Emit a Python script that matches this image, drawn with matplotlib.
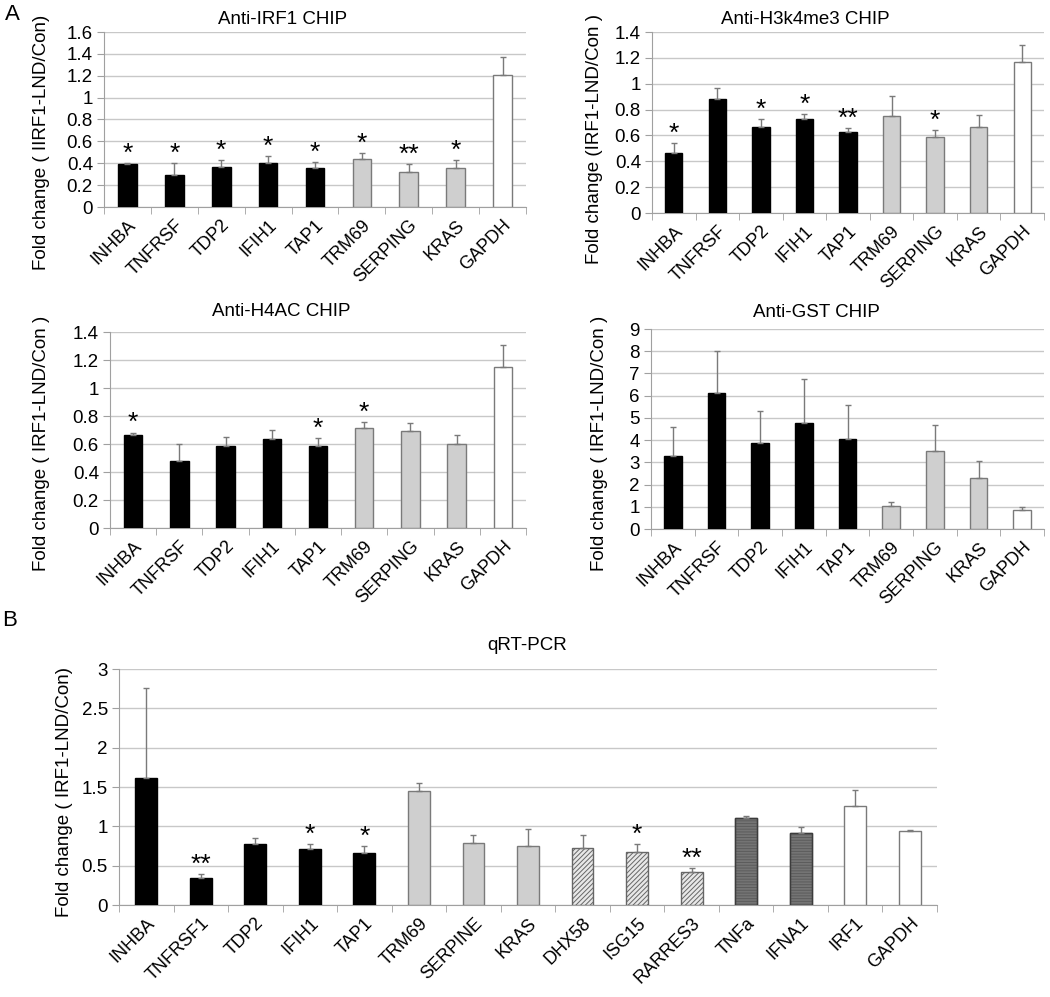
import numpy as np
import matplotlib
matplotlib.use("Agg")
import matplotlib.pyplot as plt

plt.rcParams["font.family"] = ["Liberation Sans", "DejaVu Sans"]
plt.rcParams["hatch.linewidth"] = 0.7

W, H = 1050, 997

genes_a = ["INHBA", "TNFRSF", "TDP2", "IFIH1", "TAP1", "TRM69", "SERPING", "KRAS", "GAPDH"]
groups_a = ["k", "k", "k", "k", "k", "g", "g", "g", "w"]

irf1_val = [0.39, 0.29, 0.37, 0.40, 0.36, 0.44, 0.32, 0.36, 1.21]
irf1_err = [0.015, 0.115, 0.06, 0.07, 0.05, 0.05, 0.07, 0.07, 0.16]
irf1_star = ["*", "*", "*", "*", "*", "*", "**", "*", ""]

h3_val = [0.465, 0.885, 0.665, 0.73, 0.627, 0.748, 0.586, 0.662, 1.17]
h3_err = [0.077, 0.08, 0.06, 0.035, 0.03, 0.155, 0.055, 0.095, 0.13]
h3_star = ["*", "", "*", "*", "**", "", "*", "", ""]

h4_val = [0.662, 0.481, 0.583, 0.636, 0.588, 0.714, 0.69, 0.598, 1.15]
h4_err = [0.02, 0.12, 0.065, 0.062, 0.055, 0.045, 0.062, 0.067, 0.16]
h4_star = ["*", "", "", "", "*", "*", "", "", ""]

gst_val = [3.28, 6.11, 3.85, 4.78, 4.06, 1.03, 3.52, 2.29, 0.85]
gst_err = [1.29, 1.9, 1.48, 1.96, 1.5, 0.18, 1.15, 0.79, 0.12]
gst_star = [""] * 9

genes_b = ["INHBA", "TNFRSF1", "TDP2", "IFIH1", "TAP1", "TRM69", "SERPINE", "KRAS",
           "DHX58", "ISG15", "RARRES3", "TNFa", "IFNA1", "IRF1", "GAPDH"]
groups_b = ["k", "k", "k", "k", "k", "g", "g", "g", "h", "h", "h", "d", "d", "w", "w"]
qpcr_val = [1.614, 0.343, 0.78, 0.708, 0.665, 1.445, 0.792, 0.746,
            0.725, 0.67, 0.424, 1.10, 0.915, 1.263, 0.94]
qpcr_err = [1.144, 0.05, 0.076, 0.067, 0.085, 0.11, 0.10, 0.225,
            0.165, 0.10, 0.04, 0.03, 0.08, 0.2, 0.013]
qpcr_star = ["", "**", "", "*", "*", "", "", "", "", "*", "**", "", "", "", ""]

styles = {
    "k": dict(facecolor="black", edgecolor="black", hatch=None),
    "g": dict(facecolor="#cfcfcf", edgecolor="#7a7a7a", hatch=None),
    "w": dict(facecolor="white", edgecolor="#7a7a7a", hatch=None),
    "h": dict(facecolor="#e8e8e8", edgecolor="#666666", hatch="///////"),
    "d": dict(facecolor="#747474", edgecolor="#5c5c5c", hatch="------"),
}


def add_ax(left, right, top, bottom):
    return fig.add_axes([left / W, 1 - bottom / H, (right - left) / W, (bottom - top) / H])


def panel(ax, cats, vals, errs, groups, stars, ymax, ystep, ylabel, lab_xy, width=0.4):
    x = np.arange(len(cats))
    for i in range(len(cats)):
        st = styles[groups[i]]
        ax.bar(x[i], vals[i], width=width, color=st["facecolor"], edgecolor=st["edgecolor"],
               hatch=st["hatch"], linewidth=1.0, zorder=3)
        if groups[i] == "d":
            ax.bar(x[i], vals[i], width=width, fill=False, edgecolor="#3c3c3c",
                   linewidth=1.0, zorder=3)
    ax.errorbar(x, vals, yerr=[np.zeros(len(vals)), errs], fmt="none", ecolor="#7a7a7a",
                elinewidth=1.0, capsize=2, capthick=1.0, zorder=4)
    for i in range(len(cats)):
        if stars[i]:
            ax.annotate(stars[i], (x[i], vals[i] + errs[i]), xytext=(0, -2), textcoords="offset points",
                        ha="center", va="bottom", fontsize=19)
    ax.set_xlim(-0.5, len(cats) - 0.5)
    ax.set_ylim(0, ymax)
    ticks = np.arange(0, ymax + ystep / 2, ystep)
    ax.set_yticks(ticks)
    ax.set_yticklabels(["{:g}".format(round(t, 2)) for t in ticks], fontsize=13.5)
    ax.set_xticks(x)
    ax.set_xticklabels(cats, rotation=45, ha="right", rotation_mode="anchor", fontsize=13)
    ax.set_xticks(np.arange(-0.5, len(cats)), minor=True)
    ax.tick_params(axis="x", which="major", length=0, pad=7)
    ax.tick_params(axis="x", which="minor", length=5, color="#a0a0a0", direction="out")
    ax.tick_params(axis="y", length=5, color="#a0a0a0", pad=3)
    ax.grid(axis="y", color="#c8c8c8", linewidth=1.0, zorder=0)
    ax.set_axisbelow(True)
    for s in ["top", "right"]:
        ax.spines[s].set_visible(False)
    for s in ["left", "bottom"]:
        ax.spines[s].set_color("#a0a0a0")
    ax.set_ylabel(ylabel, fontsize=13.5)
    ax.yaxis.set_label_coords(*lab_xy)


fig = plt.figure(figsize=(W / 100, H / 100), dpi=100)

# label x given as right edge of the rotated text, in axes fraction
ax1 = add_ax(104, 526, 32, 207)
panel(ax1, genes_a, irf1_val, irf1_err, groups_a, irf1_star, 1.6, 0.2,
      "Fold change ( IIRF1-LND/Con)", ((50 - 104) / 422, 0.37))
ax2 = add_ax(652, 1044, 32, 213)
panel(ax2, genes_a, h3_val, h3_err, groups_a, h3_star, 1.4, 0.2,
      "Fold change (IRF1-LND/Con )", ((603 - 652) / 392, 0.41))
ax3 = add_ax(110, 526, 332, 528)
panel(ax3, genes_a, h4_val, h4_err, groups_a, h4_star, 1.4, 0.2,
      "Fold change ( IRF1-LND/Con )", ((50 - 110) / 416, 0.43))
ax4 = add_ax(651, 1044, 329, 529)
panel(ax4, genes_a, gst_val, gst_err, groups_a, gst_star, 9, 1,
      "Fold change ( IRF1-LND/Con )", ((608 - 651) / 393, 0.43))
ax5 = add_ax(119, 937, 669, 905)
panel(ax5, genes_b, qpcr_val, qpcr_err, groups_b, qpcr_star, 3, 0.5,
      "Fold change ( IRF1-LND/Con)", ((73 - 119) / 818, 0.48))

fig.text(283 / W, 1 - 19 / H, "Anti-IRF1 CHIP", ha="center", va="center", fontsize=13.5)
fig.text(805 / W, 1 - 20 / H, "Anti-H3k4me3 CHIP", ha="center", va="center", fontsize=13.5)
fig.text(281 / W, 1 - 311 / H, "Anti-H4AC CHIP", ha="center", va="center", fontsize=13.5)
fig.text(816 / W, 1 - 312 / H, "Anti-GST CHIP", ha="center", va="center", fontsize=13.5)
fig.text(527 / W, 1 - 645 / H, "qRT-PCR", ha="center", va="center", fontsize=13.5)
fig.text(12 / W, 1 - 14 / H, "A", ha="center", va="center", fontsize=16)
fig.text(10 / W, 1 - 620 / H, "B", ha="center", va="center", fontsize=16)

fig.savefig("out.png", dpi=100)
